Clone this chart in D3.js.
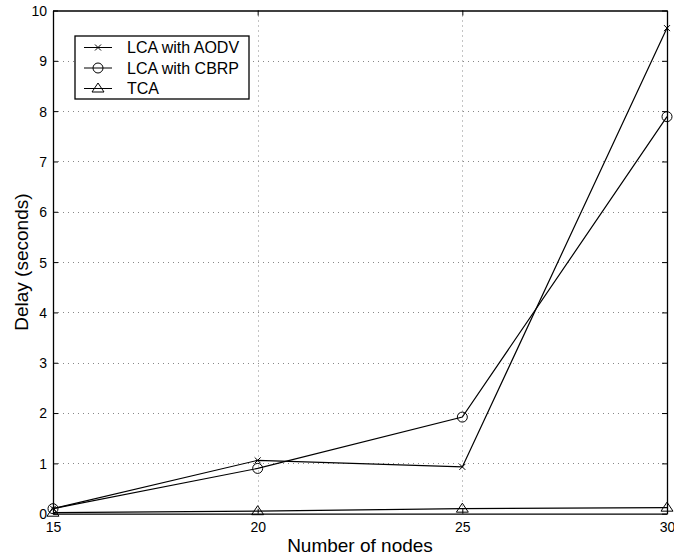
<!DOCTYPE html>
<html>
<head>
<meta charset="utf-8">
<script src="https://cdn.jsdelivr.net/npm/d3@7"></script>
<style>
  body { margin: 0; background: #fff; }
  text { font-family: "Liberation Sans", Arial, sans-serif; fill: #000; }
</style>
</head>
<body>
<div id="canvas"></div>
<script>
"use strict"
let svgWidth = 674;
let svgHeight = 559;

let marginLeft = 53;
let marginRight = 7;
let marginTop = 10.5;
let marginBottom = 45.3;

// chart values
let nodes = [15, 20, 25, 30];
let aodvDelay = [0.1, 1.06, 0.93, 9.65];
let cbrpDelay = [0.1, 0.9, 1.92, 7.89];
let tcaDelay = [0.02, 0.05, 0.1, 0.12];
let seriesNames = ["LCA with AODV", "LCA with CBRP", "TCA"];
let seriesMarkers = ["cross", "circle", "triangle"];
let xTicks = [15, 20, 25, 30];
let yTicks = [0, 1, 2, 3, 4, 5, 6, 7, 8, 9, 10];

let svg = d3.select("#canvas")
    .append("svg")
    .attr("width", svgWidth)
    .attr("height", svgHeight);

let xScale = d3.scaleLinear()
    .domain([15, 30])
    .range([marginLeft, svgWidth - marginRight]);
let yScale = d3.scaleLinear()
    .domain([0, 10])
    .range([svgHeight - marginBottom, marginTop]);

let plotLeft = xScale(15), plotRight = xScale(30);
let plotTop = yScale(10), plotBottom = yScale(0);

// dotted grid
let grid = svg.append("g")
    .attr("stroke", "#888")
    .attr("stroke-width", 1)
    .attr("stroke-dasharray", "1,4");
grid.selectAll("line.gx")
    .data(xTicks.slice(1, -1))
    .join("line")
    .attr("class", "gx")
    .attr("x1", d => Math.round(xScale(d)) + 0.5)
    .attr("x2", d => Math.round(xScale(d)) + 0.5)
    .attr("y1", plotTop)
    .attr("y2", plotBottom);
grid.selectAll("line.gy")
    .data(yTicks.slice(1, -1))
    .join("line")
    .attr("class", "gy")
    .attr("x1", plotLeft)
    .attr("x2", plotRight)
    .attr("y1", d => Math.round(yScale(d)) + 0.5)
    .attr("y2", d => Math.round(yScale(d)) + 0.5);

// axes, ticks pointing inwards on all four sides
let fmt = d3.format("d");
let axB = svg.append("g").attr("transform", `translate(0,${plotBottom})`)
    .call(d3.axisBottom(xScale).tickValues(xTicks).tickSizeInner(-5).tickSizeOuter(0).tickPadding(8).tickFormat(fmt));
let axT = svg.append("g").attr("transform", `translate(0,${plotTop})`)
    .call(d3.axisTop(xScale).tickValues(xTicks).tickSizeInner(-5).tickSizeOuter(0).tickFormat(""));
let axL = svg.append("g").attr("transform", `translate(${plotLeft},0)`)
    .call(d3.axisLeft(yScale).tickValues(yTicks).tickSizeInner(-5).tickSizeOuter(0).tickPadding(6).tickFormat(fmt));
let axR = svg.append("g").attr("transform", `translate(${plotRight},0)`)
    .call(d3.axisRight(yScale).tickValues(yTicks).tickSizeInner(-5).tickSizeOuter(0).tickFormat(""));
[axB, axT, axL, axR].forEach(function (a) {
    a.select(".domain").attr("stroke", "#000").attr("stroke-width", 1.3);
    a.selectAll(".tick line").attr("stroke", "#000");
    a.selectAll("text").attr("font-size", 14).attr("font-family", "Liberation Sans, Arial, sans-serif").attr("fill", "#000");
});
axL.selectAll("text").attr("dy", "0.35em");

// marker drawing
function drawMarker(g, kind, x, y) {
    if (kind == "cross") {
        g.append("path")
            .attr("d", `M${x - 3},${y - 3}L${x + 3},${y + 3}M${x - 3},${y + 3}L${x + 3},${y - 3}`)
            .attr("stroke", "#000").attr("fill", "none");
    } else if (kind == "circle") {
        g.append("circle")
            .attr("cx", x).attr("cy", y).attr("r", 5)
            .attr("stroke", "#000").attr("fill", "none");
    } else {
        g.append("path")
            .attr("d", `M${x},${y - 5.5}L${x + 6},${y + 3.5}L${x - 6},${y + 3.5}Z`)
            .attr("stroke", "#000").attr("fill", "none");
    }
}

let allSeries = [aodvDelay, cbrpDelay, tcaDelay];
let line = d3.line()
    .x((d, i) => xScale(nodes[i]))
    .y(d => yScale(d));

for (let s = 0; s < allSeries.length; s++) {
    let g = svg.append("g");
    g.append("path")
        .datum(allSeries[s])
        .attr("d", line)
        .attr("fill", "none")
        .attr("stroke", "#000")
        .attr("stroke-width", 1.2);
    for (let i = 0; i < nodes.length; i++) {
        drawMarker(g, seriesMarkers[s], xScale(nodes[i]), yScale(allSeries[s][i]));
    }
}

// axis labels
svg.append("text")
    .attr("x", (plotLeft + plotRight) / 2)
    .attr("y", 552)
    .attr("text-anchor", "middle")
    .attr("font-size", 19)
    .text("Number of nodes");

svg.append("text")
    .attr("transform", "rotate(-90)")
    .attr("x", -(plotTop + plotBottom) / 2)
    .attr("y", 28)
    .attr("text-anchor", "middle")
    .attr("font-size", 19)
    .text("Delay (seconds)");

// legend
let legX = 75, legY = 36, legW = 174, legH = 63;
svg.append("rect")
    .attr("x", legX).attr("y", legY)
    .attr("width", legW).attr("height", legH)
    .attr("fill", "#fff").attr("stroke", "#000").attr("stroke-width", 1.3);
for (let i = 0; i < seriesNames.length; i++) {
    let yPosition = legY + 11.5 + i * 20.5;
    let g = svg.append("g");
    g.append("line")
        .attr("x1", legX + 9).attr("x2", legX + 37)
        .attr("y1", yPosition).attr("y2", yPosition)
        .attr("stroke", "#000");
    drawMarker(g, seriesMarkers[i], legX + 23, yPosition);
    svg.append("text")
        .attr("x", legX + 52)
        .attr("y", yPosition)
        .attr("dy", "0.35em")
        .attr("font-size", 16)
        .text(seriesNames[i]);
}
</script>
</body>
</html>
